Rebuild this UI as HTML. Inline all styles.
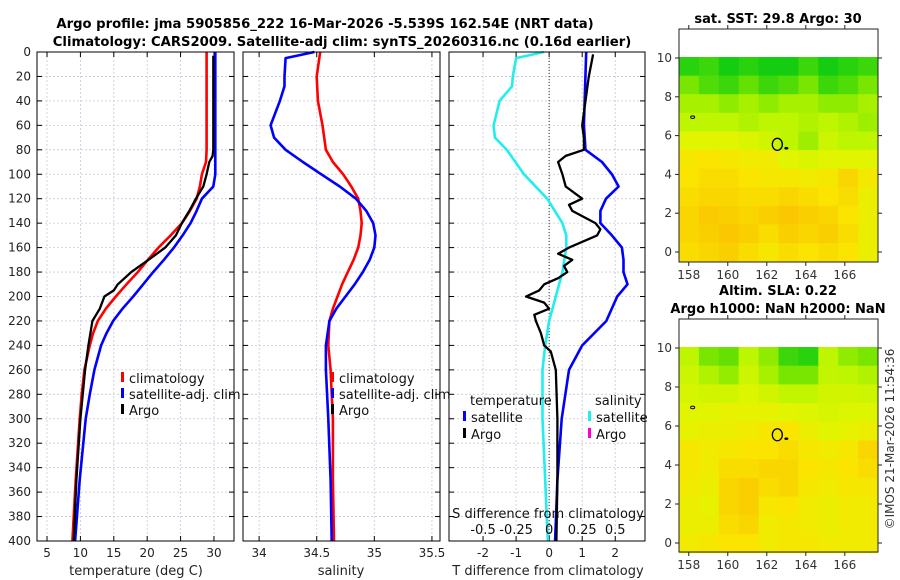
<!DOCTYPE html>
<html><head><meta charset="utf-8">
<style>
html,body{margin:0;padding:0;background:#fff;}
svg{display:block;font-family:"DejaVu Sans","Liberation Sans",sans-serif;}
</style></head>
<body>
<svg id="fig" width="900" height="580" viewBox="0 0 900 580" xmlns="http://www.w3.org/2000/svg">
<text x="325" y="28" font-size="13.2" font-weight="bold" text-anchor="middle">Argo profile: jma 5905856_222 16-Mar-2026 -5.539S 162.54E (NRT data)</text>
<text x="342" y="46" font-size="13.2" font-weight="bold" text-anchor="middle">Climatology: CARS2009. Satellite-adj clim: synTS_20260316.nc (0.16d earlier)</text>
<text x="778" y="23" font-size="13" font-weight="bold" text-anchor="middle">sat. SST: 29.8 Argo: 30</text>
<text x="778" y="295" font-size="13" font-weight="bold" text-anchor="middle">Altim. SLA: 0.22</text>
<text x="778" y="313" font-size="13" font-weight="bold" text-anchor="middle">Argo h1000: NaN h2000: NaN</text>
<text transform="translate(894,439) rotate(-90)" font-size="12" fill="#333" text-anchor="middle">©IMOS 21-Mar-2026 11:54:36</text>
<g id="layer"></g>
</svg>
<script>
// ---- data ----
const depthTicks = [0,20,40,60,80,100,120,140,160,180,200,220,240,260,280,300,320,340,360,380,400];
const tempTicks = [5,10,15,20,25,30];
const salTicks = [34,34.5,35,35.5];
const tdiffTicks = [-2,-1,0,1,2];
const sdiffTicks = [-0.5,-0.25,0,0.25,0.5];
const sdiffTickLabels = ["-0.5","-0.25","0","0.25","0.5"];

const tClimDepth = [0,20,40,60,80,90,100,110,120,130,140,150,160,170,180,190,200,210,220,230,240,260,280,300,350,400];
const tClimVal   = [28.9,28.9,28.9,28.9,28.9,28.8,28.2,27.9,27.4,26.4,25.2,23.5,21.7,20.1,18.6,16.9,15.3,13.8,12.6,11.9,11.4,10.6,10.2,9.9,9.3,8.8];
const tSatDepth  = [0,20,40,60,80,100,110,120,130,140,150,160,170,180,190,200,210,220,230,240,260,280,300,350,400];
const tSatVal    = [30.2,30.2,30.2,30.2,30.2,30.2,29.9,28.2,27.4,26.5,25.3,24.0,22.5,20.9,19.4,17.9,16.3,14.9,13.9,13.1,12.1,11.4,10.8,9.9,9.2];
const tArgoDepth = [3,20,40,60,80,85,90,100,110,120,130,140,150,160,170,180,190,195,200,210,220,240,260,300,350,400];
const tArgoVal   = [29.9,29.9,29.9,29.9,29.9,29.8,29.3,28.9,28.4,27.3,26.3,25.2,24.3,22.7,20.2,17.6,15.6,15.0,13.6,12.9,11.8,11.2,10.7,10.0,9.4,9.0];

const sClimDepth = [0,20,40,60,80,90,100,110,120,130,140,150,160,170,180,190,200,210,220,240,260,280,300,350,400];
const sClimVal   = [34.53,34.5,34.51,34.55,34.58,34.64,34.73,34.8,34.86,34.88,34.89,34.88,34.86,34.82,34.77,34.72,34.68,34.64,34.61,34.6,34.62,34.63,34.64,34.64,34.65];
const sSatDepth  = [0,5,20,28,40,60,70,80,90,100,110,120,130,140,150,160,170,180,190,200,210,220,240,260,300,350,400];
const sSatVal    = [34.48,34.23,34.22,34.22,34.18,34.1,34.13,34.23,34.38,34.54,34.7,34.84,34.93,34.99,35.01,35.0,34.96,34.9,34.83,34.75,34.67,34.61,34.58,34.58,34.6,34.62,34.63];

const sDiffDepth = [0,5,20,28,40,60,70,80,100,120,140,150,160,180,200,220,240,260,300,350,400];
const sDiffVal   = [-0.04,-0.25,-0.275,-0.28,-0.375,-0.42,-0.41,-0.32,-0.19,-0.015,0.1,0.13,0.13,0.1,0.05,0.0,-0.03,-0.05,-0.05,-0.03,-0.01];
const tDiffSatDepth = [0,60,80,90,100,110,120,130,140,150,160,170,180,190,200,220,240,260,300,350,400];
const tDiffSatVal   = [1.12,1.05,1.1,1.6,1.9,2.1,1.72,1.55,1.55,1.9,2.2,2.25,2.25,2.37,2.06,1.73,1.0,0.6,0.38,0.25,0.18];
const tDiffArgoDepth = [2,20,40,60,70,80,85,90,100,110,120,125,130,140,145,150,160,165,170,175,180,185,190,195,200,205,210,215,220,230,240,245,260,300,350,400];
const tDiffArgoVal   = [1.33,1.2,1.1,1.0,1.05,1.05,0.5,0.27,0.4,0.5,1.0,0.6,0.7,1.4,1.55,1.45,0.6,0.27,0.7,0.45,0.55,0.27,-0.15,-0.3,-0.7,-0.15,0.0,-0.45,-0.4,-0.25,-0.15,0.05,0.2,0.25,0.25,0.22];

// map data (values 0..1 mapped to colormap), rows from north (10) to south
const mapLonTicks = [158,160,162,164,166];
const mapLatTicks = [0,2,4,6,8,10];
const sstGrid = [
 [0.10,0.15,0.05,0.10,0.05,0.05,0.15,0.05,0.10,0.15],
 [0.30,0.20,0.15,0.25,0.15,0.20,0.30,0.15,0.20,0.30],
 [0.40,0.40,0.35,0.40,0.35,0.40,0.40,0.35,0.35,0.40],
 [0.45,0.45,0.45,0.42,0.45,0.45,0.42,0.45,0.42,0.38],
 [0.58,0.58,0.58,0.55,0.52,0.45,0.38,0.50,0.45,0.45],
 [0.66,0.68,0.66,0.64,0.64,0.58,0.55,0.58,0.58,0.58],
 [0.68,0.70,0.70,0.68,0.66,0.66,0.64,0.66,0.72,0.65],
 [0.70,0.72,0.72,0.70,0.70,0.72,0.70,0.68,0.70,0.62],
 [0.72,0.75,0.74,0.72,0.74,0.76,0.74,0.72,0.68,0.62],
 [0.72,0.74,0.76,0.74,0.70,0.74,0.72,0.74,0.70,0.62],
 [0.70,0.72,0.74,0.70,0.66,0.70,0.68,0.70,0.68,0.62]
];
const slaGrid = [
 [0.45,0.30,0.25,0.45,0.35,0.15,0.10,0.45,0.35,0.30],
 [0.50,0.42,0.36,0.50,0.40,0.30,0.30,0.46,0.45,0.42],
 [0.54,0.52,0.52,0.56,0.52,0.46,0.46,0.52,0.52,0.50],
 [0.58,0.58,0.60,0.60,0.60,0.58,0.56,0.54,0.56,0.57],
 [0.60,0.62,0.62,0.64,0.66,0.68,0.62,0.58,0.60,0.62],
 [0.66,0.64,0.66,0.68,0.68,0.70,0.66,0.64,0.66,0.72],
 [0.66,0.64,0.70,0.70,0.72,0.72,0.68,0.66,0.68,0.70],
 [0.64,0.62,0.72,0.74,0.70,0.72,0.66,0.64,0.66,0.66],
 [0.62,0.60,0.72,0.74,0.66,0.68,0.64,0.62,0.64,0.64],
 [0.62,0.62,0.70,0.72,0.64,0.66,0.64,0.62,0.64,0.64],
 [0.64,0.66,0.68,0.68,0.64,0.66,0.66,0.64,0.64,0.64]
];
const argoLon = 162.54, argoLat = 5.55;

// ---- drawing ----
const NS = "http://www.w3.org/2000/svg";
const L = document.getElementById('layer');
function mk(tag, attrs, parent){ const e=document.createElementNS(NS,tag); for(const k in attrs) e.setAttribute(k,attrs[k]); (parent||L).appendChild(e); return e; }
function txt(s, attrs){ const t=mk('text',attrs); t.textContent=s; return t; }

const Y0=52, Y1=541;
const yDepth = d => Y0 + d/400*(Y1-Y0);
function linScale(d0,d1,r0,r1){ return v => r0 + (v-d0)/(d1-d0)*(r1-r0); }

const panels = [
 {name:'temperature-panel', x0:37, x1:234, dom:[3.5,33]},
 {name:'salinity-panel', x0:243, x1:440, dom:[33.86,35.57]},
 {name:'difference-panel', x0:449, x1:645, dom:[-3.03,2.9]}
];
panels.forEach(p => p.sx = linScale(p.dom[0],p.dom[1],p.x0,p.x1));

function frame(p, xticks, xlabels, showY){
  const g = mk('g',{});
  
  
  mk('rect',{x:p.x0,y:Y0,width:p.x1-p.x0,height:Y1-Y0,fill:'#fff'},g);
  depthTicks.forEach(d=>{
    const y=yDepth(d);
    const gl=mk('line',{x1:p.x0,x2:p.x1,y1:y,y2:y,stroke:'#c8c8dc','stroke-width':0.8,'stroke-dasharray':'2,2'},g);
    
    
    mk('line',{x1:p.x0,x2:p.x0+5,y1:y,y2:y,stroke:'#000'},g);
    mk('line',{x1:p.x1-5,x2:p.x1,y1:y,y2:y,stroke:'#000'},g);
    if(showY){
      const t=txt(String(d),{x:p.x0-6,y:y+4,'font-size':12,'text-anchor':'end',fill:'#222'});
      
      
    }
  });
  xticks.forEach((v,i)=>{
    const x=p.sx(v);
    mk('line',{x1:x,x2:x,y1:Y0,y2:Y1,stroke:'#c8c8dc','stroke-width':0.8,'stroke-dasharray':'2,2'},g);
    mk('line',{x1:x,x2:x,y1:Y1-5,y2:Y1,stroke:'#000'},g);
    mk('line',{x1:x,x2:x,y1:Y0,y2:Y0+5,stroke:'#000'},g);
    const t=txt(xlabels[i],{x:x,y:557,'font-size':12,'text-anchor':'middle',fill:'#222'});
    
    
  });
  return g;
}
function line(p, depths, vals, color, name, w, scale){
  const s = scale || p.sx;
  const pts = depths.map((d,i)=> s(vals[i]).toFixed(1)+','+yDepth(d).toFixed(1)).join(' ');
  const e = mk('polyline',{points:pts,fill:'none',stroke:color,'stroke-width':w||2.6,'stroke-linejoin':'round'});
  
  
  return e;
}
function border(p){ mk('rect',{x:p.x0,y:Y0,width:p.x1-p.x0,height:Y1-Y0,fill:'none',stroke:'#000','stroke-width':1}); }
function legendItem(x,y,color,label,name){
  mk('rect',{x:x,y:y-11,width:3,height:10,fill:color});
  const t=txt(label,{x:x+8,y:y,'font-size':13,fill:'#111'});
  
  
}

// panel 1 temperature
const P1=panels[0];
frame(P1, tempTicks, tempTicks.map(String), true);
line(P1,tClimDepth,tClimVal,'#ff0000','temp-climatology-line');
line(P1,tSatDepth,tSatVal,'#0000ff','temp-satellite-line');
line(P1,tArgoDepth,tArgoVal,'#000000','temp-argo-line',2.3);
border(P1);
legendItem(121,383,'#ff0000','climatology','legend-climatology');
legendItem(121,399,'#0000ff','satellite-adj. clim','legend-satellite');
legendItem(121,415,'#000000','Argo','legend-argo');
txt('temperature (deg C)',{x:136,y:575,'font-size':13,'text-anchor':'middle',fill:'#222'});

// panel 2 salinity
const P2=panels[1];
frame(P2, salTicks, salTicks.map(String), false);
line(P2,sClimDepth,sClimVal,'#ff0000','sal-climatology-line');
line(P2,sSatDepth,sSatVal,'#0000ff','sal-satellite-line');
border(P2);
legendItem(331,383,'#ff0000','climatology','legend-sal-climatology');
legendItem(331,399,'#0000ff','satellite-adj. clim','legend-sal-satellite');
legendItem(331,415,'#000000','Argo','legend-sal-argo');
txt('salinity',{x:341,y:575,'font-size':13,'text-anchor':'middle',fill:'#222'});

// panel 3 differences
const P3=panels[2];
frame(P3, tdiffTicks, tdiffTicks.map(String), false);
const sdx = linScale(0,0.25,P3.sx(0),P3.sx(1));
mk('line',{x1:P3.sx(0),x2:P3.sx(0),y1:Y0,y2:Y1,stroke:'#333','stroke-width':1,'stroke-dasharray':'1,2'});
line(P3,sDiffDepth,sDiffVal,'#22eeee','sal-diff-satellite-line',2.6,sdx);
line(P3,tDiffSatDepth,tDiffSatVal,'#0000ff','temp-diff-satellite-line');
line(P3,tDiffArgoDepth,tDiffArgoVal,'#000000','temp-diff-argo-line',2.3);
border(P3);
txt('temperature',{x:470,y:405,'font-size':13,fill:'#111'});
legendItem(463,422,'#0000ff','satellite','legend-tdiff-satellite');
legendItem(463,439,'#000000','Argo','legend-tdiff-argo');
txt('salinity',{x:595,y:405,'font-size':13,fill:'#111'});
legendItem(588,422,'#22eeee','satellite','legend-sdiff-satellite');
legendItem(588,439,'#ff00cc','Argo','legend-sdiff-argo');
txt('S difference from climatology',{x:548,y:518,'font-size':13,'text-anchor':'middle',fill:'#111'});
sdiffTicks.forEach((v,i)=>{
  const t=txt(sdiffTickLabels[i],{x:sdx(v),y:534,'font-size':13,'text-anchor':'middle',fill:'#111'});
  
  
});
txt('T difference from climatology',{x:548,y:575,'font-size':13,'text-anchor':'middle',fill:'#222'});

// maps
function cmap(v){
  const stops=[[0,[0,200,20]],[0.3,[120,230,0]],[0.45,[190,245,0]],[0.58,[225,245,0]],[0.68,[250,228,0]],[0.8,[250,185,0]]];
  for(let i=1;i<stops.length;i++){
    if(v<=stops[i][0]){ const a=stops[i-1],b=stops[i]; const t=(v-a[0])/(b[0]-a[0]);
      return 'rgb('+a[1].map((c,k)=>Math.round(c+t*(b[1][k]-c))).join(',')+')'; }
  }
  return 'rgb(250,185,0)';
}
function drawMap(name, grid, bx0, by0, bx1, by1, lat10y, lat0y){
  const g=mk('g',{});
  
  
  const sx=linScale(157.5,167.7,bx0,bx1);
  const sy=linScale(10,0,lat10y,lat0y);
  const nR=grid.length, nC=grid[0].length;
  const lonStep=(167.7-157.5)/nC, latTop=10.05, latBot=-0.5, latStep=(latTop-latBot)/nR;
  grid.forEach((row,r)=>row.forEach((v,c)=>{
    const x=sx(157.5+c*lonStep), y=sy(latTop-r*latStep);
    const cell=mk('rect',{x:x.toFixed(1),y:y.toFixed(1),width:(sx(157.5+(c+1)*lonStep)-x+0.5).toFixed(1),height:(sy(latTop-(r+1)*latStep)-y+0.5).toFixed(1),fill:cmap(v)},g);
    
    
  }));
  mk('rect',{x:bx0,y:by0,width:bx1-bx0,height:by1-by0,fill:'none',stroke:'#222','stroke-width':1},g);
  const ci=mk('ellipse',{cx:sx(argoLon),cy:sy(argoLat),rx:5,ry:6,fill:'none',stroke:'#000','stroke-width':1.3},g);
  
  
  mk('ellipse',{cx:sx(163),cy:sy(5.35),rx:2,ry:1.3,fill:'#000'},g);
  mk('ellipse',{cx:sx(158.2),cy:sy(6.95),rx:2,ry:1.3,fill:'none',stroke:'#000'},g);
  mapLatTicks.forEach(v=>{
    const y=sy(v);
    mk('line',{x1:bx0,x2:bx0-4,y1:y,y2:y,stroke:'#222'},g);
    mk('line',{x1:bx1,x2:bx1+4,y1:y,y2:y,stroke:'#222'},g);
    const t=txt(String(v),{x:bx0-7,y:y+4,'font-size':12,'text-anchor':'end',fill:'#333'});
    
    
  });
  mapLonTicks.forEach(v=>{
    const x=sx(v);
    mk('line',{x1:x,x2:x,y1:by1,y2:by1+4,stroke:'#222'},g);
    mk('line',{x1:x,x2:x,y1:by0,y2:by0-4,stroke:'#222'},g);
    const t=txt(String(v),{x:x,y:by1+17,'font-size':12,'text-anchor':'middle',fill:'#333'});
    
    
  });
}
drawMap('sst-map', sstGrid, 679, 29, 878, 262, 58, 252);
drawMap('sla-map', slaGrid, 679, 319, 878, 552, 348, 543);
</script>
</body></html>
